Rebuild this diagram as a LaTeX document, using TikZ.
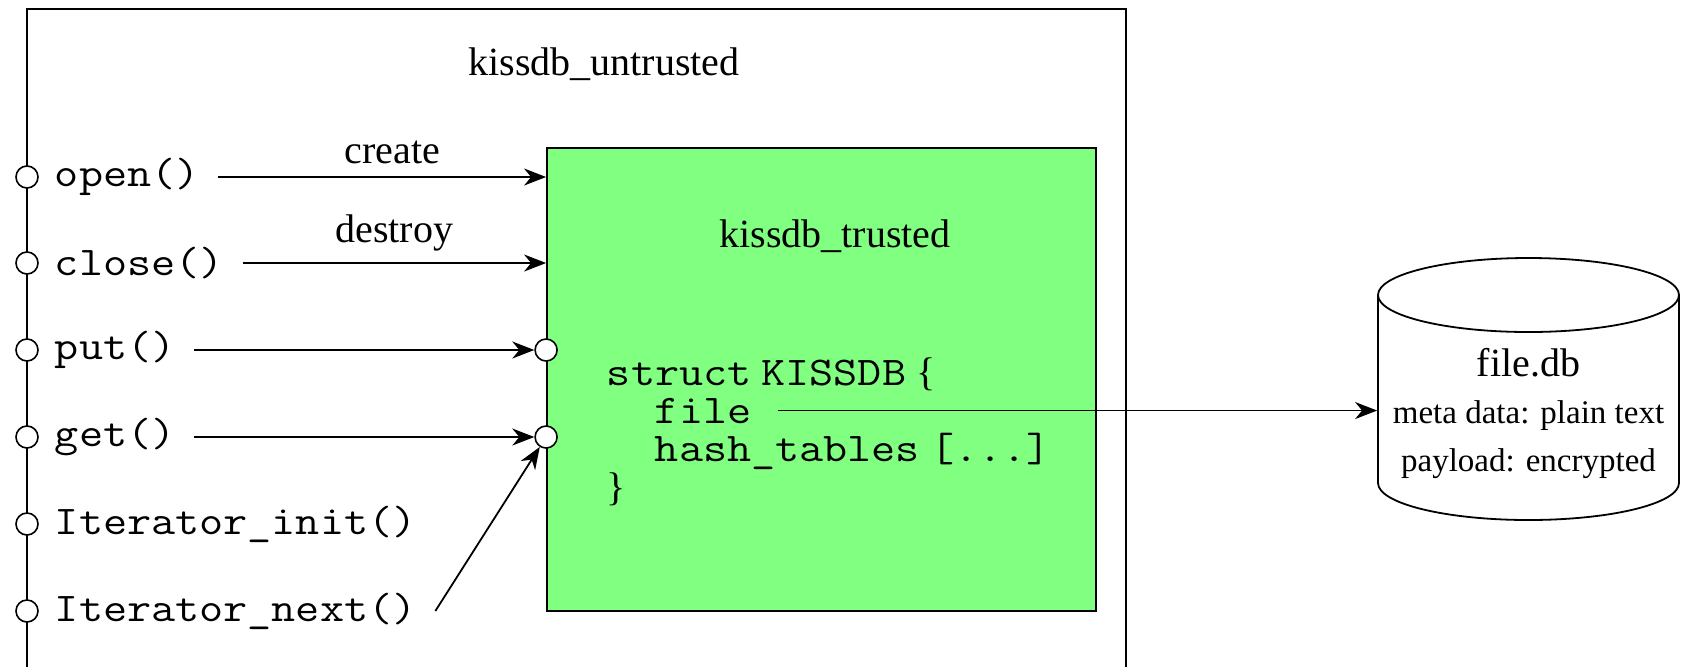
\documentclass[tikz,border=0pt]{standalone}
\usepackage{fontspec}
\usepackage{graphicx}
\setmainfont{Liberation Serif}
\usetikzlibrary{arrows.meta,calc}
\definecolor{trustgreen}{RGB}{128,255,128}
% typewriter text widened to Courier-like cell widths
\newcommand{\cd}[1]{\scalebox{1.17}[1.02]{\ttfamily #1}}
\begin{document}
\begin{tikzpicture}[x=0.5pt,y=-0.5pt,
  line width=0.9pt,
  title/.style={inner sep=0pt, anchor=base, font=\fontsize{20}{24}\selectfont},
  small/.style={inner sep=0pt, anchor=base, font=\fontsize{16.5}{20}\selectfont},
  api/.style={inner sep=0pt, anchor=west, font=\fontsize{20}{24}\selectfont},
  code/.style={inner sep=0pt, anchor=base west, font=\fontsize{20}{24}\selectfont},
  port/.style={circle, draw, fill=white, minimum size=11pt, inner sep=0pt, line width=0.8pt},
  call/.style={-{Stealth[length=11pt,width=8.5pt,inset=3.5pt]}},
]
\useasboundingbox (0,0) rectangle (1682,666);
\clip (0,0) rectangle (1682,666);

% untrusted container (runs past the lower edge)
\coordinate (edge) at (27,9);
\draw (edge) rectangle (1126,720);
\node[title] (untrusted) at (604,75) {kissdb\_untrusted};

% trusted enclave
\node[draw, fill=trustgreen, minimum width=274.5pt, minimum height=231.5pt,
      inner sep=0pt] (trusted) at (821.5,379.5) {};
\node[title] (trustedlbl) at (835,247) {kissdb\_trusted};

% struct in the enclave
\node[code] (s1) at (606,385) {\cd{struct} \cd{KISSDB} \{};
\node[code] (s2) at (654,423) {\cd{file}};
\node[code] (s3) at (654,461) {\cd{hash\_tables} \cd{[...]}};
\node[code] (s4) at (606,500) {\}};

% API entry points on the untrusted boundary
\foreach \n/\t/\y in {open/open()/177, close/close()/263, put/put()/350,
                      get/get()/437, init/Iterator\_init()/524, next/Iterator\_next()/611}{
  \node[api] (\n) at (54,\y) {\cd{\t}};
}
\foreach \n in {open,close,put,get,init,next}{
  \node[port] (p\n) at (edge |- \n) {};
}

% enclave ports
\node[port] (tput) at (trusted.west |- put) {};
\node[port] (tget) at (trusted.west |- get) {};

% calls
\draw[call] ([xshift=9pt]open.east) -- (open.east -| trusted.west)
  node[title, midway, yshift=7pt, xshift=5pt] (create) {create};
\draw[call] ([xshift=9pt]close.east) -- (close.east -| trusted.west)
  node[title, midway, yshift=10.5pt] (destroy) {destroy};
\draw[call] ([xshift=9pt]put.east) -- (tput);
\draw[call] ([xshift=9pt]get.east) -- (tget);
\draw[call] ([xshift=9pt]next.east) -- (tget);

% database file
\coordinate (dbc) at (1528.5,295);
\draw (1378,295) -- (1378,483) arc[start angle=180, end angle=0, x radius=150.5, y radius=37]
      -- (1679,295);
\draw (dbc) ellipse[x radius=150.5, y radius=37];
\node[minimum width=150.5pt, minimum height=94pt, inner sep=0pt] (db) at (1528.5,389) {};
\node[title] (dbname) at (1528.5,376) {file.db};
\node[small] (meta) at (1528.5,423) {meta data: plain text};
\node[small] (payload) at (1528.5,471) {payload: encrypted};

\draw[call] ([xshift=13pt]s2.east) -- (s2.east -| db.west);
\end{tikzpicture}
\end{document}
